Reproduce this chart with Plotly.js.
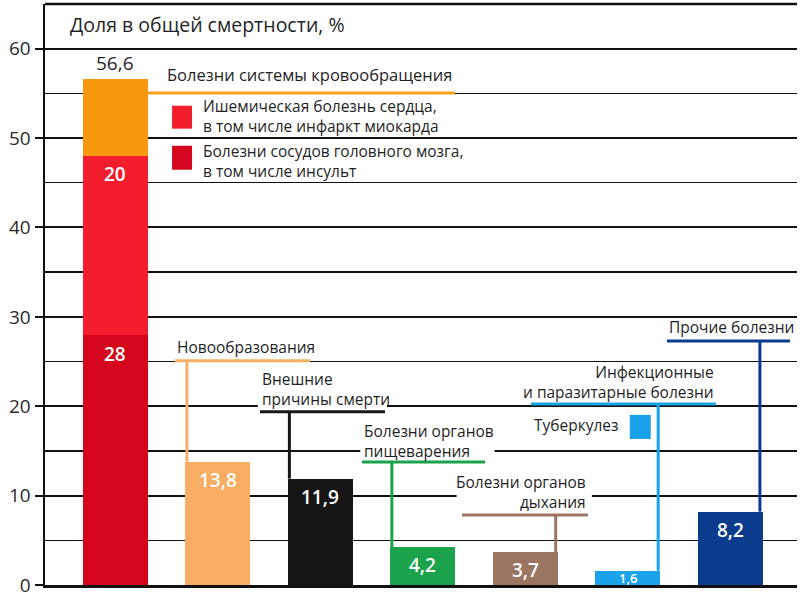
<!DOCTYPE html>
<html>
<head>
<meta charset="utf-8">
<script src="https://cdn.plot.ly/plotly-3.0.1.min.js"></script>
<style>html,body{margin:0;padding:0;background:#fff;}#chart{width:800px;height:600px;}</style>
</head>
<body>
<div id="chart"></div>
<script>
// ---------- data ----------
const categories = ['Болезни системы кровообращения', 'Новообразования', 'Внешние причины смерти',
  'Болезни органов пищеварения', 'Болезни органов дыхания', 'Инфекционные и паразитарные болезни', 'Прочие болезни'];
const circulatoryTotal = 56.6;          // Болезни системы кровообращения
const ischemicHeart = 20;               // Ишемическая болезнь сердца
const cerebrovascular = 28;             // Болезни сосудов головного мозга
const otherCauses = [13.8, 11.9, 4.2, 3.7, 1.6, 8.2];   // categories 1..6
const yTicks = [0, 10, 20, 30, 40, 50, 60];
const titleText = 'Доля в общей смертности, %';

// ---------- styles ----------
const FONT = 'Open Sans, Liberation Sans, sans-serif';
const TXT = '#1f1f26';
const cOrange = '#f7980f', cRed = '#f21e2e', cDarkRed = '#d5051d';
const otherColors = ['#f7ae62', '#161616', '#1aa34a', '#9c7562', '#1aa3e8', '#0a3b8c'];
const lineColors = ['#f5b066', '#161616', '#1aa34a', '#9c7562', '#1aa3e8', '#0a3b8c'];
const BW = 0.634, HALF = BW / 2;
const fmt = v => (Number.isInteger(v) ? String(v) : v.toFixed(1).replace('.', ','));

const circRest = +(circulatoryTotal - ischemicHeart - cerebrovascular).toFixed(1);
const otherX = otherCauses.map((_, i) => i + 1);

const traces = [
  {type: 'bar', x: [0], y: [cerebrovascular], marker: {color: cDarkRed}, width: BW, hoverinfo: 'skip'},
  {type: 'bar', x: [0], y: [ischemicHeart], marker: {color: cRed}, width: BW, hoverinfo: 'skip'},
  {type: 'bar', x: [0], y: [circRest], marker: {color: cOrange}, width: BW, hoverinfo: 'skip'},
  {type: 'bar', x: otherX, y: otherCauses, marker: {color: otherColors}, width: BW, hoverinfo: 'skip'}
];

// ---------- annotations ----------
const ann = [];
const lbl = (x, y, text, opt) => ann.push(Object.assign({x, y, text, showarrow: false, xref: 'x', yref: 'y',
  font: {family: FONT, size: 15.5, color: TXT}}, opt));

lbl(-0.463, 62.69, titleText, {xanchor: 'left', yanchor: 'middle', font: {family: FONT, size: 19.5, color: TXT}});

// value labels
lbl(0, circulatoryTotal, fmt(circulatoryTotal), {yanchor: 'bottom', yshift: 1, font: {family: FONT, size: 19, color: TXT}});
lbl(0, cerebrovascular + ischemicHeart, fmt(ischemicHeart), {yanchor: 'top', yshift: -3, font: {family: FONT, size: 19, color: '#fff', weight: 600}});
lbl(0, cerebrovascular, fmt(cerebrovascular), {yanchor: 'top', yshift: -4, font: {family: FONT, size: 19, color: '#fff', weight: 600}});
otherCauses.forEach((v, i) => {
  if (v > 3) {
    lbl(i + 1, v, fmt(v), {yanchor: 'top', yshift: -3, font: {family: FONT, size: 19, color: '#fff', weight: 600}});
  } else {
    lbl(i + 1, v / 2, fmt(v), {yanchor: 'middle', font: {family: FONT, size: 13, color: '#fff', weight: 600}});
  }
});

// category callouts
lbl(0.484, 57.1, 'Болезни системы кровообращения', {xanchor: 'left', font: {family: FONT, size: 16.5, color: TXT}});
lbl(0.835, 52.45, 'Ишемическая болезнь сердца,<br>в том числе инфаркт миокарда', {xanchor: 'left', align: 'left'});
lbl(0.835, 47.46, 'Болезни сосудов головного мозга,<br>в том числе инсульт', {xanchor: 'left', align: 'left'});
lbl(0.582, 26.64, categories[1], {xanchor: 'left'});
lbl(1.411, 21.94, 'Внешние<br>причины смерти', {xanchor: 'left', align: 'left'});
lbl(2.407, 16.12, 'Болезни органов<br>пищеварения', {xanchor: 'left', align: 'left'});
lbl(4.612, 10.41, 'Болезни органов<br>дыхания', {xanchor: 'right', align: 'right'});
lbl(5.861, 22.67, 'Инфекционные<br>и паразитарные болезни', {xanchor: 'right', align: 'right'});
lbl(4.93, 17.91, 'Туберкулез', {xanchor: 'right'});
lbl(5.383, 28.88, categories[6], {xanchor: 'left'});

// ---------- shapes ----------
const shapes = [];
const box = (x0, x1, y0, y1) => shapes.push({type: 'rect', layer: 'between', x0, x1, y0, y1, line: {width: 0}, fillcolor: '#fff'});
const seg = (x0, y0, x1, y1, color, w) => shapes.push({type: 'line', layer: 'above', x0, y0, x1, y1, line: {color, width: w || 3}});
const sq = (x0, x1, y0, y1, color) => shapes.push({type: 'rect', layer: 'above', x0, x1, y0, y1, line: {width: 0}, fillcolor: color});

// white backgrounds hiding gridlines behind text
box(1.39, 2.65, 19.72, 24.2);
box(2.39, 3.70, 14.05, 18.3);
box(3.33, 4.65, 8.3, 12.7);

// callout leaders
seg(HALF, 55.05, 3.313, 55.05, '#f7a01a');
seg(0.582, 25.1, 1.900, 25.1, lineColors[0]);
seg(1 - HALF + 0.015, 25.1, 1 - HALF + 0.015, otherCauses[0], lineColors[0]);
seg(1.411, 19.37, 2.631, 19.37, lineColors[1]);
seg(2 - HALF + 0.015, 19.37, 2 - HALF + 0.015, otherCauses[1], lineColors[1]);
seg(2.407, 13.77, 3.607, 13.77, lineColors[2]);
seg(3 - HALF + 0.015, 13.77, 3 - HALF + 0.015, otherCauses[2], lineColors[2]);
seg(3.382, 7.84, 4.612, 7.84, lineColors[3]);
seg(4 + HALF - 0.02, 7.84, 4 + HALF - 0.02, otherCauses[3], lineColors[3]);
seg(4.056, 20.26, 5.861, 20.26, lineColors[4]);
seg(5 + HALF - 0.02, 20.26, 5 + HALF - 0.02, otherCauses[4], lineColors[4]);
seg(5.383, 27.31, 6.583, 27.31, lineColors[5]);
seg(6 + HALF - 0.027, 27.31, 6 + HALF - 0.027, otherCauses[5], lineColors[5]);

// legend squares
sq(0.553, 0.748, 51.05, 53.62, cRed);
sq(0.553, 0.748, 46.46, 49.14, cDarkRed);
sq(5.02, 5.225, 16.34, 19.03, '#1aa3e8');

// top frame line
shapes.push({type: 'line', xref: 'paper', yref: 'paper', x0: 0, x1: 1, y0: 1, y1: 1, line: {color: '#111', width: 2.5}, layer: 'above'});

const layout = {
  width: 800, height: 600,
  margin: {l: 45, r: 3, t: 4, b: 15},
  paper_bgcolor: '#fff', plot_bgcolor: '#fff',
  barmode: 'stack', bargap: 0,
  showlegend: false,
  xaxis: {range: [-0.687, 6.652], showticklabels: false, showgrid: false, zeroline: false, ticks: '',
    showline: true, linecolor: '#111', linewidth: 3, fixedrange: true},
  yaxis: {range: [0, 65], tickvals: yTicks, ticktext: yTicks.map(String), ticks: 'outside', ticklen: 8, tickwidth: 2, tickcolor: '#111',
    tickfont: {family: FONT, size: 19, color: '#2a2a2a'},
    showgrid: true, gridcolor: '#111', gridwidth: 2, zeroline: false,
    showline: true, linecolor: '#111', linewidth: 2.5,
    minor: {dtick: 5, tick0: 0, showgrid: true, gridcolor: '#111', gridwidth: 1.3, ticks: ''}},
  annotations: ann,
  shapes: shapes
};

Plotly.newPlot('chart', traces, layout, {staticPlot: true, displayModeBar: false});
</script>
</body>
</html>
